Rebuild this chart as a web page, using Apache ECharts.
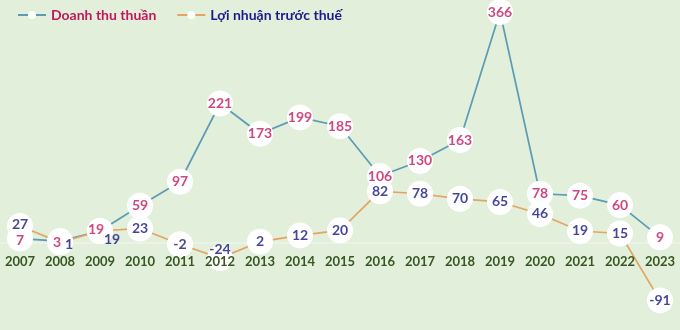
<!DOCTYPE html>
<html><head><meta charset="utf-8">
<script src="https://cdn.jsdelivr.net/npm/echarts@6/dist/echarts.min.js"></script>
<style>html,body{margin:0;padding:0;background:#e2efda;}#c{width:680px;height:330px;}</style>
</head><body><div id="c"></div>
<script>
const years = ['2007','2008','2009','2010','2011','2012','2013','2014','2015','2016','2017','2018','2019','2020','2021','2022','2023'];
const revenue = [7,3,19,59,97,221,173,199,185,106,130,163,366,78,75,60,9];
const profit = [27,1,19,23,-2,-24,2,12,20,82,78,70,65,46,19,15,-91];
const seriesNames = ['Doanh thu thuần','Lợi nhuận trước thuế'];

const FONT = 'Lato, "Open Sans", sans-serif';
const revLabelOffsets = {0:[0,2],1:[-3,1],2:[-4,-1]};
const profLabelOffsets = {0:[0,-1],1:[9,2],2:[12,9],5:[0,-9]};

const Y_MIN = -91, Y_MAX = 366, GRID_TOP = 12, GRID_BOTTOM = 29.6, H = 330;

function mk(vals, offs){
  return vals.map((v,i)=>{
    const o = {value:v};
    if(offs[i]) o.label = {offset: offs[i]};
    return o;
  });
}

function lineSeries(name, vals, color){
  return {
    name:name, type:'line', data:vals, z:2, xAxisIndex:0,
    symbol:'circle', symbolSize:26,
    itemStyle:{color:'#ffffff', borderWidth:0},
    lineStyle:{color:color, width:1.7},
    label:{show:false}
  };
}
function labelSeries(vals, offs, color){
  return {
    name:'lbl', type:'scatter', data:mk(vals, offs), z:10, xAxisIndex:0,
    symbol:'circle', symbolSize:1, silent:true,
    itemStyle:{color:'rgba(0,0,0,0)'},
    label:{show:true, position:'inside', color:color, fontFamily:FONT, fontWeight:'bold', fontSize:14}
  };
}

// distance from grid bottom up to the zero line
const gridH = H - GRID_TOP - GRID_BOTTOM;
const zeroOffset = gridH * (0 - Y_MIN) / (Y_MAX - Y_MIN);

const chart = echarts.init(document.getElementById('c'));
chart.setOption({
  backgroundColor:'#e2efda',
  animation:false,
  legend:{
    left:12, top:3, itemGap:20, itemWidth:28, itemHeight:10,
    data:[
      {name:seriesNames[0], textStyle:{color:'#c2185b'}},
      {name:seriesNames[1], textStyle:{color:'#1a1a8c'}}
    ],
    textStyle:{fontFamily:FONT, fontWeight:'bold', fontSize:14}
  },
  grid:{left:0, right:0, top:GRID_TOP, bottom:GRID_BOTTOM},
  xAxis:[
    {
      type:'category', data:years, boundaryGap:true, position:'bottom', offset:-zeroOffset, z:0,
      axisLine:{show:true, onZero:false, lineStyle:{color:'#eef5ea', width:1.5}},
      axisTick:{show:false}, axisLabel:{show:false}
    },
    {
      type:'category', data:years, boundaryGap:true, position:'bottom', offset:-zeroOffset, z:20,
      axisLine:{show:false, onZero:false}, axisTick:{show:false},
      axisLabel:{color:'#375623', fontFamily:FONT, fontWeight:'bold', fontSize:13, margin:12}
    }
  ],
  yAxis:{type:'value', min:Y_MIN, max:Y_MAX, show:true,
    axisLine:{show:false}, axisTick:{show:false}, axisLabel:{show:false}, splitLine:{show:false}},
  series:[
    lineSeries(seriesNames[0], revenue, '#5b9bb5'),
    lineSeries(seriesNames[1], profit, '#e4a464'),
    labelSeries(revenue, revLabelOffsets, '#c0185f'),
    labelSeries(profit, profLabelOffsets, '#15157e')
  ]
});
</script></body></html>
